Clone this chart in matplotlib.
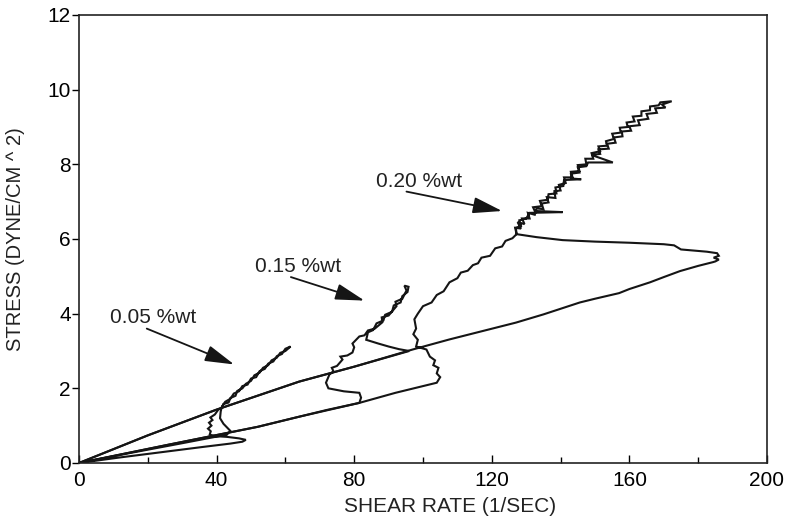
import numpy as np
import matplotlib
matplotlib.use("Agg")
import matplotlib.pyplot as plt

plt.rcParams['font.family'] = ['Liberation Sans', 'DejaVu Sans']

# 0.05 %wt : ramp up, then back down
c05_up = [(0, 0), (12, 0.15), (24, 0.29), (36, 0.43), (44, 0.52), (47.5, 0.57),
          (48.5, 0.62), (46.5, 0.66), (43, 0.70), (39.5, 0.72), (38, 0.76),
          (38.3, 0.85), (37.5, 0.92), (38.5, 1.0), (37.8, 1.08), (38.8, 1.15),
          (38.2, 1.22), (39.5, 1.3), (40.5, 1.43), (41.5, 1.48), (42, 1.58),
          (43.5, 1.62), (44, 1.74), (45.5, 1.8), (46, 1.93), (47.5, 2.0),
          (48.5, 2.12), (50, 2.2), (51, 2.35), (52.5, 2.42), (53.5, 2.55),
          (55, 2.62), (56, 2.75), (57.5, 2.82), (58.5, 2.95), (60, 3.0), (61.5, 3.12)]
c05_down = [(61.5, 3.12), (60, 3.06), (59, 2.92), (57.5, 2.86), (56.5, 2.72),
            (55, 2.66), (54, 2.52), (52.5, 2.46), (51.5, 2.3), (50, 2.26),
            (49, 2.1), (47.5, 2.06), (46.5, 1.92), (45, 1.86), (44, 1.72),
            (42.5, 1.64), (41.5, 1.5), (41.2, 1.38), (41, 1.2), (42, 1.05),
            (44, 0.86), (43, 0.76), (30, 0.53), (15, 0.27), (0, 0)]

# 0.15 %wt
c15_up = [(0, 0), (26, 0.49), (52, 0.97), (64, 1.24), (72, 1.42), (81.5, 1.61),
          (82, 1.75), (81.5, 1.88), (77, 1.92), (72.5, 2.0), (71.8, 2.15),
          (72.8, 2.37), (74, 2.45), (73.5, 2.55), (75, 2.6), (76.6, 2.77),
          (76, 2.85), (78, 2.88), (79.5, 2.96), (80, 3.1), (79.5, 3.2),
          (81.5, 3.39), (83, 3.42), (84, 3.55), (86, 3.6), (88.2, 3.77),
          (88, 3.9), (90, 3.95), (92.3, 4.2), (92, 4.32), (94, 4.4),
          (95.2, 4.62), (94.6, 4.75), (95.8, 4.72)]
c15_down = [(95.8, 4.72), (95.5, 4.58), (94, 4.47), (93.5, 4.3), (91.5, 4.22),
            (91, 4.05), (89, 3.97), (88.5, 3.82), (86.5, 3.74), (85.5, 3.56),
            (84, 3.5), (83.5, 3.3), (87, 3.2), (90, 3.12), (93, 3.05), (96, 3.0),
            (80, 2.58), (64, 2.18), (40, 1.43), (20, 0.74), (0, 0)]

# 0.20 %wt
c20_up = [(0, 0), (26, 0.49), (52, 0.97), (64, 1.24), (81.5, 1.61), (92, 1.88),
          (104, 2.15), (105, 2.3), (104, 2.4), (104.5, 2.55), (103, 2.62),
          (103.5, 2.75), (102, 2.85), (101, 3.04), (98, 3.12), (98.5, 3.3),
          (97.2, 3.45), (98, 3.6), (97.5, 3.85), (98.5, 4.0), (100, 4.2),
          (102.5, 4.3), (104, 4.5), (106, 4.6), (107.7, 4.84), (110, 4.95),
          (111, 5.1), (113, 5.15), (114.5, 5.3), (116, 5.35), (117, 5.5),
          (119.5, 5.55), (121, 5.75), (123, 5.8), (124, 5.95), (126, 6.02),
          (127.2, 6.13), (126.8, 6.3), (128.5, 6.28), (127.5, 6.45), (129.5, 6.4),
          (128.8, 6.55), (131, 6.55), (130.5, 6.7), (132.5, 6.65), (133, 6.82),
          (135, 6.8), (134.5, 6.95), (136.5, 6.98), (136, 7.12), (138.5, 7.1),
          (138.2, 7.28), (140, 7.3), (139.5, 7.45), (141.5, 7.5), (141, 7.65),
          (143.5, 7.65), (143, 7.8), (145.5, 7.82), (145, 7.98), (147.5, 8.0),
          (147.2, 8.15), (149.5, 8.15), (149, 8.3), (151.5, 8.35), (151, 8.48),
          (153.5, 8.5), (153.2, 8.62), (155.5, 8.68), (155, 8.82), (157.5, 8.85),
          (157.2, 8.98), (159.5, 9.0), (159.2, 9.12), (161.5, 9.15), (161, 9.28),
          (163.5, 9.3), (163.5, 9.42), (166, 9.45), (166, 9.55), (168.5, 9.58),
          (169, 9.66), (172.3, 9.69)]
c20_down = [(172.3, 9.69), (169.5, 9.6), (170.5, 9.52), (167.5, 9.5), (168, 9.38),
            (165, 9.35), (165.5, 9.22), (162.5, 9.18), (163, 9.05), (160, 9.02),
            (160.5, 8.9), (157.8, 8.88), (158, 8.75), (155.5, 8.72), (156, 8.58),
            (153.5, 8.55), (154, 8.42), (151, 8.4), (151.5, 8.28), (149, 8.25),
            (155.2, 8.05), (148, 8.05), (147.5, 7.95), (145, 7.92), (145.5, 7.78),
            (143, 7.75), (143.2, 7.62), (146, 7.6), (141, 7.58), (140.8, 7.42),
            (138.5, 7.38), (138.8, 7.22), (136.5, 7.2), (136.2, 7.05), (134, 7.02),
            (134.5, 6.88), (132, 6.85), (132.5, 6.75), (140.6, 6.72), (131, 6.7),
            (130, 6.55), (128, 6.5), (128.5, 6.35), (127, 6.3), (127.2, 6.13),
            (133, 6.05), (140.6, 5.97), (150, 5.93), (160, 5.9), (170, 5.86),
            (173, 5.83), (175, 5.72), (182.5, 5.66), (185.5, 5.62), (186, 5.55),
            (184.5, 5.5), (186, 5.45), (185, 5.4), (184.3, 5.38), (180, 5.28),
            (174.7, 5.14), (170, 4.98), (166, 4.84), (160, 4.66), (157, 4.55),
            (150, 4.4), (145.6, 4.3), (135, 3.98), (127, 3.76), (118, 3.55),
            (107.7, 3.31), (97, 3.04), (80, 2.58), (64, 2.18), (40, 1.43),
            (20, 0.74), (0, 0)]

curves = [c05_up + c05_down, c15_up + c15_down, c20_up + c20_down]

labels = ['0.05 %wt', '0.15 %wt', '0.20 %wt']
label_xy = [(9.0, 3.9), (51.2, 5.25), (86.3, 7.53)]
arrow_tail = [(19.7, 3.6), (61.6, 4.98), (95.2, 7.27)]
arrow_head = [(45.1, 2.64), (83.0, 4.35), (123.0, 6.75)]

fig = plt.figure(figsize=(7.86, 5.19), dpi=100)
ax = fig.add_axes([0.1005, 0.1079, 0.8753, 0.8632])

for pts in curves:
    p = np.array(pts)
    ax.plot(p[:, 0], p[:, 1], color='#151515', lw=1.5, solid_joinstyle='miter')

for lab, txy, tail, head in zip(labels, label_xy, arrow_tail, arrow_head):
    ax.text(txy[0], txy[1], lab, fontsize=15, ha='left', va='center', color='#222222')
    ax.annotate('', xy=head, xytext=tail,
                arrowprops=dict(arrowstyle='-|>,head_length=1.8,head_width=0.5',
                                color='#151515', lw=1.3, shrinkA=0, shrinkB=0))

ax.set_xlim(0, 200)
ax.set_ylim(0, 12)
ax.set_xticks([0, 40, 80, 120, 160, 200])
ax.set_xticks([20, 60, 100, 140, 180], minor=True)
ax.set_yticks([0, 2, 4, 6, 8, 10, 12])
ax.tick_params(axis='x', direction='in', length=6, width=1, labelsize=15, pad=6)
ax.tick_params(axis='x', which='minor', direction='in', length=4, width=1)
ax.tick_params(axis='y', direction='out', length=5, width=1, labelsize=15, pad=1)
for s in ax.spines.values():
    s.set_linewidth(1.2)
    s.set_color('#222222')

ax.set_xlabel('SHEAR RATE (1/SEC)', fontsize=15, color='#222222')
ax.xaxis.set_label_coords(0.539, -0.075)
ax.set_ylabel('STRESS (DYNE/CM ^ 2)', fontsize=14.5, color='#222222')
ax.yaxis.set_label_coords(-0.078, 0.5)

fig.savefig('out.png', dpi=100)
